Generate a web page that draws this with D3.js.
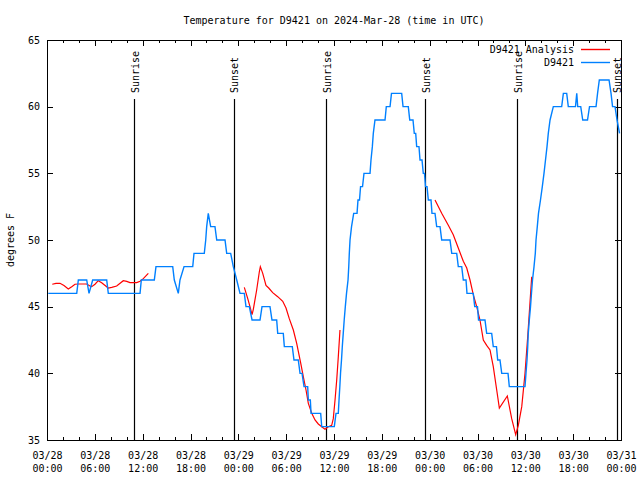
<!DOCTYPE html>
<html><head><meta charset="utf-8">
<script src="https://cdn.jsdelivr.net/npm/d3@7"></script>
<style>
body{margin:0;background:#fff}
text{font-family:"DejaVu Sans Mono","Liberation Mono",monospace;font-size:10px;fill:#000}
</style>
</head><body>
<svg id="chart" width="640" height="480"></svg>
<script>
// ---- data ----
const chartTitle = "Temperature for D9421 on 2024-Mar-28 (time in UTC)";
const yAxisLabel = "degrees F";
const startUTC = Date.UTC(2024, 2, 28, 0, 0);   // 03/28 00:00 UTC
const spanHours = 72;
const yTicks = [35, 40, 45, 50, 55, 60, 65];
const yDomain = [35, 65];
const seriesNames = ["D9421 Analysis", "D9421"];
const seriesColors = ["#ff0000", "#0080ff"];

// observations (hours since 03/28 00:00 UTC, degrees F)
const obsHours = [
  0.16,3.73,3.93,4.98,5.27,5.73,7.49,7.69,11.67,11.83,
  13.46,13.67,15.77,15.97,16.47,16.68,17.19,18.28,18.44,19.73,
  19.91,20.03,20.23,20.53,21.07,21.29,22.33,22.54,23.04,23.37,
  23.80,24.21,24.75,24.96,25.38,25.72,26.72,26.97,27.97,28.22,
  28.81,28.94,29.64,29.77,30.77,30.98,31.52,31.74,31.99,32.24,
  32.70,32.78,33.03,33.12,34.33,34.46,36.04,36.25,36.54,36.63,
  36.73,36.82,36.94,37.04,37.16,37.28,37.42,37.57,37.76,37.85,
  37.92,38.01,38.20,38.47,38.89,39.01,39.20,39.33,39.58,39.76,
  40.52,40.64,40.81,40.93,41.14,42.40,42.56,43.03,43.21,44.49,
  44.66,45.32,45.50,45.91,46.07,46.25,46.37,46.66,46.79,47.04,
  47.20,47.35,47.48,47.67,47.83,48.17,48.29,48.67,48.88,49.30,
  49.51,50.55,50.77,51.39,51.59,52.02,52.22,52.56,52.68,53.47,
  53.65,54.00,54.13,54.94,55.15,55.78,55.98,56.38,56.53,56.82,
  57.04,57.83,57.99,59.96,60.08,60.21,60.30,60.37,60.50,60.65,
  60.77,60.90,61.09,61.25,61.34,61.50,61.65,61.90,62.13,62.34,
  62.53,62.72,62.88,63.10,63.51,64.56,64.77,65.19,65.39,66.29,
  66.45,66.57,66.95,67.20,67.80,68.05,68.87,69.06,69.28,70.50,
  70.75,70.94,71.25,71.50,71.82
];
const obsValues = [
  46,46,47,47,46,47,47,46,46,47,
  47,48,48,47,46,47,48,48,49,49,
  50,51,52,51,51,50,50,49,49,48,
  47,46,46,45,45,44,44,45,45,44,
  44,43,43,42,42,41,41,40,40,39,
  39,38,38,37,37,36,36,37,37,38,
  39,40,41,42,43,44,45,46,47,48,
  49,50,51,52,52,53,53,54,54,55,
  55,56,57,58,59,59,60,60,61,61,
  60,60,59,59,58,58,57,57,56,56,
  55,55,54,54,53,53,52,52,51,51,
  50,50,49,49,48,48,47,47,46,46,
  45,45,44,44,43,43,42,42,41,41,
  40,40,39,39,40,41,42,43,44,45,
  46,47,48,49,50,51,52,53,54,55,
  56,57,58,59,60,60,61,61,60,60,
  61,60,60,59,59,60,60,61,62,62,
  61,60,60,59,58
];

// analysis (null = gap between runs)
const anaHours = [
  0.66,1.13,1.63,2.13,2.67,3.10,3.51,3.93,4.98,5.39,5.61,6.02,6.43,6.86,7.69,8.12,8.74,9.57,10.00,10.41,11.25,11.67,12.08,12.71,
  null,
  24.75,25.18,25.46,25.72,25.88,26.30,26.63,26.76,27.06,27.47,27.81,28.31,28.94,29.57,29.98,30.39,30.90,31.32,31.83,32.15,32.49,32.78,33.21,33.62,34.03,34.46,34.87,35.29,35.71,35.91,36.13,36.34,36.54,36.75,
  null,
  48.67,49.51,50.34,50.96,51.59,52.22,52.65,53.06,53.47,53.90,54.31,54.73,55.15,55.57,55.98,56.41,56.74,57.74,58.29,58.79,59.12,59.55,59.96,60.30,60.80
];
const anaValues = [
  46.68,46.75,46.75,46.58,46.33,46.5,46.68,46.7,46.7,46.55,46.5,46.68,46.95,46.8,46.4,46.45,46.55,46.95,46.9,46.8,46.8,46.9,47.1,47.5,
  null,
  46.45,45.6,45.0,44.4,44.8,46.25,47.6,48.0,47.5,46.6,46.4,46.05,45.75,45.4,44.9,44.1,43.25,42.25,40.75,39.75,38.75,37.75,37.0,36.5,36.2,36.0,35.8,36.0,36.1,36.6,38.0,39.5,41.25,43.25,
  null,
  53.0,52.0,51.1,50.4,49.4,48.4,47.9,47.0,45.9,45.0,44.0,42.5,42.1,41.75,40.5,38.75,37.4,38.3,36.6,35.4,36.1,37.5,40.0,42.75,47.25
];

const sunHours = [10.95, 23.40, 35.02, 47.43, 59.00, 71.46];
const sunLabels = ["Sunrise", "Sunset", "Sunrise", "Sunset", "Sunrise", "Sunset"];

// ---- drawing ----
const W = 640, H = 480;
const M = {left: 47, right: 19, top: 40, bottom: 40};
const iw = W - M.left - M.right, ih = H - M.top - M.bottom;
const toDate = h => new Date(startUTC + h * 3600e3);

const svg = d3.select("#chart");
svg.append("rect").attr("width", W).attr("height", H).attr("fill", "#fff");

const x = d3.scaleUtc().domain([toDate(0), toDate(spanHours)]).range([M.left, M.left + iw]);
const y = d3.scaleLinear().domain(yDomain).range([M.top + ih, M.top]);

svg.append("defs").append("clipPath").attr("id", "clip")
  .append("rect").attr("x", M.left).attr("y", M.top).attr("width", iw).attr("height", ih);

// title
svg.append("text").attr("x", M.left + iw / 2).attr("y", 24)
  .attr("text-anchor", "middle").text(chartTitle);

// y label
svg.append("text").attr("transform", `translate(14,${M.top + ih / 2}) rotate(-90)`)
  .attr("text-anchor", "middle").text(yAxisLabel);

const major = d3.utcHour.every(6), minor = d3.utcHour.every(2);
const fmtDay = d3.utcFormat("%m/%d"), fmtTime = d3.utcFormat("%H:%M");

function styleAxis(g) {
  g.select(".domain").remove();
  g.selectAll(".tick line").attr("stroke", "#000").attr("shape-rendering", "crispEdges");
}

// bottom axis (major with labels)
const gb = svg.append("g").attr("transform", `translate(0,${M.top + ih})`)
  .call(d3.axisBottom(x).ticks(major).tickSize(-6).tickFormat(fmtDay));
styleAxis(gb);
gb.selectAll(".tick text").each(function(d) {
  const t = d3.select(this);
  t.text(null).attr("dy", null).attr("y", null).attr("fill", "#000");
  t.append("tspan").attr("x", 0).attr("y", 19).text(fmtDay(d));
  t.append("tspan").attr("x", 0).attr("y", 32).text(fmtTime(d));
});
// bottom minor
styleAxis(svg.append("g").attr("transform", `translate(0,${M.top + ih})`)
  .call(d3.axisBottom(x).ticks(minor).tickSize(-3).tickFormat("")));
// top axis
styleAxis(svg.append("g").attr("transform", `translate(0,${M.top})`)
  .call(d3.axisTop(x).ticks(major).tickSize(-6).tickFormat("")));
styleAxis(svg.append("g").attr("transform", `translate(0,${M.top})`)
  .call(d3.axisTop(x).ticks(minor).tickSize(-3).tickFormat("")));
// left axis
const gl = svg.append("g").attr("transform", `translate(${M.left},0)`)
  .call(d3.axisLeft(y).tickValues(yTicks).tickSize(-6).tickPadding(7).tickFormat(d3.format("d")));
styleAxis(gl);
gl.selectAll(".tick text").attr("fill", "#000");
// right axis
styleAxis(svg.append("g").attr("transform", `translate(${M.left + iw},0)`)
  .call(d3.axisRight(y).tickValues(yTicks).tickSize(-6).tickFormat("")));
svg.selectAll("g").attr("font-size", null).attr("font-family", null);

// frame
svg.append("rect").attr("x", M.left + 0.5).attr("y", M.top + 0.5)
  .attr("width", iw).attr("height", ih).attr("fill", "none")
  .attr("stroke", "#000").attr("stroke-width", 1).attr("shape-rendering", "crispEdges");

// sunrise / sunset lines
const sunData = sunHours.map((h, i) => ({t: toDate(h), label: sunLabels[i]}));
const sg = svg.append("g");
sg.selectAll("line").data(sunData).join("line")
  .attr("x1", d => Math.round(x(d.t)) + 0.5).attr("x2", d => Math.round(x(d.t)) + 0.5)
  .attr("y1", 99).attr("y2", M.top + ih)
  .attr("stroke", "#000").attr("stroke-width", 1.2);
sg.selectAll("text").data(sunData).join("text")
  .attr("transform", d => `translate(${x(d.t) + 4.8},93) rotate(-90)`)
  .attr("text-anchor", "start").text(d => d.label);

// series
const obs = obsHours.map((h, i) => ({t: toDate(h), v: obsValues[i]}));
const ana = anaHours.map((h, i) => ({t: h === null ? null : toDate(h), v: anaValues[i]}));
const line = d3.line().defined(d => d.t !== null && d.v !== null)
  .x(d => x(d.t)).y(d => y(d.v));
const plot = svg.append("g").attr("clip-path", "url(#clip)");
plot.append("path").datum(ana).attr("d", line).attr("fill", "none")
  .attr("stroke", seriesColors[0]).attr("stroke-width", 1.2);
plot.append("path").datum(obs).attr("d", line).attr("fill", "none")
  .attr("stroke", seriesColors[1]).attr("stroke-width", 1.4);

// legend
const lg = svg.append("g");
seriesNames.forEach((name, i) => {
  const yy = 49.5 + i * 13;
  lg.append("text").attr("x", 574).attr("y", yy + 3.5).attr("text-anchor", "end").text(name);
  lg.append("line").attr("x1", 581).attr("x2", 610).attr("y1", yy).attr("y2", yy)
    .attr("stroke", seriesColors[i]).attr("stroke-width", 1.4);
});
</script>
</body></html>
